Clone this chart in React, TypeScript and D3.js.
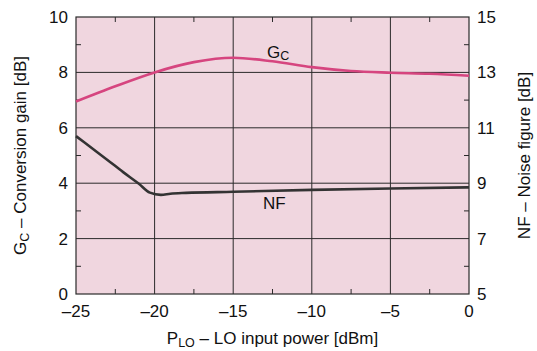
import React from 'react';
import * as d3 from 'd3';

// LO power sweep [dBm]
const gcPower = [-25, -22.5, -20, -17.5, -15, -12.5, -10, -7.5, -5, -2.5, 0];
// Conversion gain [dB], left axis
const gcValues = [6.95, 7.5, 8.0, 8.37, 8.53, 8.4, 8.19, 8.05, 7.99, 7.95, 7.88];

const nfPower = [-25, -24, -23, -22, -21, -20.3, -19.6, -19, -18, -15, -10, -5, 0];
// Noise figure [dB], right axis
const nfValues = [10.7, 10.27, 9.84, 9.4, 8.98, 8.66, 8.58, 8.62, 8.65, 8.69, 8.76, 8.81, 8.85];

const xTicks = [-25, -20, -15, -10, -5, 0];
const xMinor = [-22.5, -17.5, -12.5, -7.5, -2.5];
const gcTicks = [0, 2, 4, 6, 8, 10];
const gcMinor = [1, 3, 5, 7, 9];
const nfTicks = [5, 7, 9, 11, 13, 15];

const W = 537;
const H = 351;
const margin = { top: 17, right: 68, bottom: 57, left: 76 };
const font = '"Liberation Sans", Arial, Helvetica, sans-serif';

const App: React.FC = () => {
  const x = d3.scaleLinear().domain([-25, 0]).range([margin.left, W - margin.right]);
  const y = d3.scaleLinear().domain([0, 10]).range([H - margin.bottom, margin.top]);
  const yNf = d3.scaleLinear().domain([5, 15]).range([H - margin.bottom, margin.top]);

  const [x0, x1] = x.range();
  const [y0, y1] = y.range();

  const gcLine = d3.line<number>()
    .x((_, i) => x(gcPower[i]))
    .y(d => y(d))
    .curve(d3.curveMonotoneX)(gcValues)!;

  const nfLine = d3.line<number>()
    .x((_, i) => x(nfPower[i]))
    .y(d => yNf(d))
    .curve(d3.curveMonotoneX)(nfValues)!;

  const grid = '#2a2a2a';
  const tickLen = 5;

  return (
    <svg width={W} height={H} style={{ position: 'absolute', left: 0, top: 0, background: '#fff' }}
      fontFamily={font}>
      <rect x={x0} y={y1} width={x1 - x0} height={y0 - y1} fill="#f0d6df" />

      {/* grid */}
      {xTicks.slice(1, -1).map(t => (
        <line key={'gx' + t} x1={x(t)} x2={x(t)} y1={y0} y2={y1} stroke={grid} strokeWidth={1} />
      ))}
      {gcTicks.slice(1, -1).map(t => (
        <line key={'gy' + t} x1={x0} x2={x1} y1={y(t)} y2={y(t)} stroke={grid} strokeWidth={1} />
      ))}

      {/* minor ticks on all four sides */}
      {xMinor.map(t => (
        <g key={'mx' + t} stroke={grid}>
          <line x1={x(t)} x2={x(t)} y1={y0} y2={y0 - tickLen} />
          <line x1={x(t)} x2={x(t)} y1={y1} y2={y1 + tickLen} />
        </g>
      ))}
      {gcMinor.map(t => (
        <g key={'my' + t} stroke={grid}>
          <line x1={x0} x2={x0 + tickLen} y1={y(t)} y2={y(t)} />
          <line x1={x1} x2={x1 - tickLen} y1={y(t)} y2={y(t)} />
        </g>
      ))}

      <rect x={x0} y={y1} width={x1 - x0} height={y0 - y1} fill="none" stroke={grid} strokeWidth={1.2} />

      {/* curves */}
      <path d={gcLine} fill="none" stroke="#d6457f" strokeWidth={2.6} />
      <path d={nfLine} fill="none" stroke="#333333" strokeWidth={2.6} />

      {/* curve labels */}
      <text x={267} y={58} fontSize={17} fill="#111">
        G<tspan fontSize={12.5} dy={2}>C</tspan>
      </text>
      <text x={263} y={209} fontSize={17} fill="#111">NF</text>

      {/* x tick labels */}
      {xTicks.map(t => (
        <text key={'xl' + t} x={x(t)} y={y0 + 23} fontSize={17} textAnchor="middle" fill="#111">
          {t < 0 ? '\u2013' + Math.abs(t) : t}
        </text>
      ))}
      {/* left tick labels */}
      {gcTicks.map(t => (
        <text key={'yl' + t} x={x0 - 8} y={y(t) + 6} fontSize={17} textAnchor="end" fill="#111">{t}</text>
      ))}
      {/* right tick labels */}
      {nfTicks.map(t => (
        <text key={'nl' + t} x={x1 + 8} y={yNf(t) + 6} fontSize={17} textAnchor="start" fill="#111">{t}</text>
      ))}

      {/* axis titles */}
      <text x={(x0 + x1) / 2} y={344} fontSize={17} textAnchor="middle" fill="#111">
        P<tspan fontSize={12.5} dy={2.5}>LO</tspan><tspan dy={-2.5}> {'\u2013'} LO input power [dBm]</tspan>
      </text>
      <text transform={`translate(26, ${(y0 + y1) / 2}) rotate(-90)`} fontSize={17} textAnchor="middle" fill="#111">
        G<tspan fontSize={12.5} dy={3}>C</tspan><tspan dy={-3}> {'\u2013'} Conversion gain [dB]</tspan>
      </text>
      <text transform={`translate(530, ${(y0 + y1) / 2}) rotate(-90)`} fontSize={17} textAnchor="middle" fill="#111">
        NF {'\u2013'} Noise figure [dB]
      </text>
    </svg>
  );
};

export default App;
